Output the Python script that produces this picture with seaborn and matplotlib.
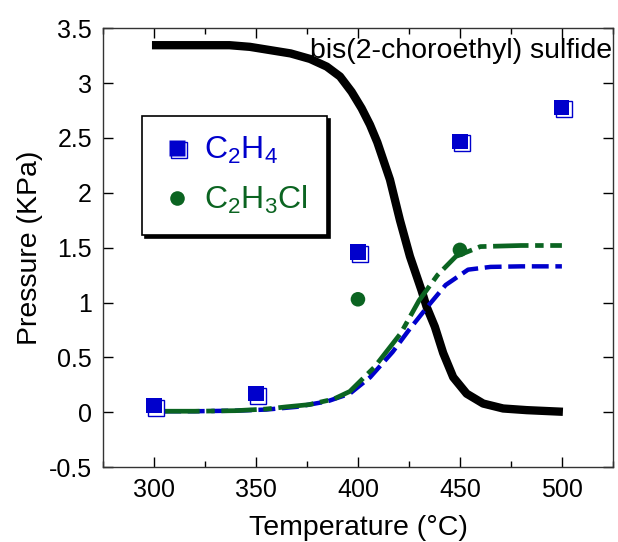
import matplotlib
matplotlib.use("Agg")
import matplotlib.pyplot as plt
import seaborn as sns
from matplotlib.lines import Line2D
from matplotlib.markers import MarkerStyle
from matplotlib.transforms import Affine2D
from matplotlib.ticker import MultipleLocator

# measured points
temp_c2h4 = [300, 350, 400, 450, 500]
p_c2h4 = [0.06, 0.17, 1.46, 2.47, 2.78]
temp_c2h3cl = [400, 450]
p_c2h3cl = [1.03, 1.48]

# model curves
t_mustard = [299, 315, 330, 337, 347, 357, 367, 376.5, 384.7, 391.2, 396.9,
             401.8, 405.9, 409.5, 415.7, 420.6, 425.5, 431.2, 433.7, 437.7,
             441.8, 446.7, 453.3, 461.4, 471.2, 482.7, 500.5]
p_mustard = [3.345, 3.345, 3.345, 3.345, 3.33, 3.30, 3.27, 3.22, 3.15, 3.06,
             2.92, 2.77, 2.62, 2.46, 2.12, 1.75, 1.42, 1.11, 0.96, 0.78, 0.54,
             0.32, 0.17, 0.08, 0.035, 0.02, 0.005]
t_c2h4_fit = [305, 320, 340, 355, 370, 385, 396, 406, 417, 425, 434, 443, 454,
              465, 480, 500]
p_c2h4_fit = [0.01, 0.01, 0.015, 0.025, 0.05, 0.10, 0.17, 0.32, 0.55, 0.75,
              0.96, 1.16, 1.30, 1.325, 1.33, 1.33]
t_c2h3cl_fit = [305, 320, 340, 355, 365, 376, 388, 396, 408, 421, 430, 439,
                448, 460, 480, 500]
p_c2h3cl_fit = [0.01, 0.01, 0.015, 0.03, 0.05, 0.07, 0.12, 0.19, 0.41, 0.72,
                1.02, 1.25, 1.42, 1.51, 1.52, 1.52]

blue = "#0000cc"
green = "#0b6421"

sns.set_style("ticks")
plt.rcParams["font.family"] = ["Liberation Sans", "DejaVu Sans"]
plt.rcParams["mathtext.fontset"] = "custom"
plt.rcParams["mathtext.rm"] = "Liberation Sans"
plt.rcParams["mathtext.default"] = "regular"
plt.rcParams["text.color"] = "black"
plt.rcParams["axes.labelcolor"] = "black"
plt.rcParams["xtick.color"] = "black"
plt.rcParams["ytick.color"] = "black"

fig = plt.figure(figsize=(6.18, 5.42), dpi=100)
ax = fig.add_axes([0.1667, 0.138, 0.825, 0.81])

sns.lineplot(x=t_mustard, y=p_mustard, ax=ax, color="black", lw=6,
             errorbar=None, solid_capstyle="butt", solid_joinstyle="round")
sns.lineplot(x=t_c2h4_fit, y=p_c2h4_fit, ax=ax, color=blue, lw=3.2,
             errorbar=None, linestyle=(0, (3.8, 1.5)), dash_capstyle="butt")
sns.lineplot(x=t_c2h3cl_fit, y=p_c2h3cl_fit, ax=ax, color=green, lw=3.4,
             errorbar=None, linestyle=(0, (7.5, 1.4, 1.8, 1.4)),
             dash_capstyle="butt")

# squares with an offset outline, like the original
shadow = MarkerStyle("s", fillstyle="none",
                     transform=Affine2D().translate(0.13, -0.13))
ax.plot(temp_c2h4, p_c2h4, ls="none", marker=shadow, ms=11,
        mec=blue, mew=1, zorder=4)
sns.scatterplot(x=temp_c2h4, y=p_c2h4, ax=ax, marker="s", s=120,
                color=blue, edgecolor="none", zorder=5)
sns.scatterplot(x=temp_c2h3cl, y=p_c2h3cl, ax=ax, marker="o", s=110,
                color=green, edgecolor="none", zorder=5)

ax.set_xlim(275, 525)
ax.set_ylim(-0.5, 3.5)
ax.xaxis.set_major_locator(MultipleLocator(50))
ax.xaxis.set_minor_locator(MultipleLocator(25))
ax.tick_params(which="both", direction="in", top=True, right=True,
               labelsize=18, width=1)
ax.tick_params(which="major", length=7, pad=8)
ax.tick_params(which="minor", length=4)
ax.set_yticks([-0.5, 0, 0.5, 1, 1.5, 2, 2.5, 3, 3.5])
ax.set_yticklabels(["-0.5", "0", "0.5", "1", "1.5", "2", "2.5", "3", "3.5"])
for s in ax.spines.values():
    s.set_linewidth(1)
    s.set_color("#333333")

ax.set_xlabel("Temperature (°C)", fontsize=20.5, labelpad=9)
ax.set_ylabel("Pressure (KPa)", fontsize=20.5, labelpad=4)

ax.text(0.998, 0.932, "bis(2-choroethyl) sulfide", transform=ax.transAxes,
        ha="right", va="baseline", fontsize=20.5)

sq_fill = Line2D([], [], ls="none", marker="s", ms=11, mfc=blue, mec="none")
sq_edge = Line2D([], [], ls="none", marker=shadow, ms=11, mec=blue, mew=1)
circ = Line2D([], [], ls="none", marker="o", ms=10.5, mfc=green, mec="none")
leg = ax.legend(handles=[(sq_edge, sq_fill), circ],
                labels=["C$_2$H$_4$", "C$_2$H$_3$Cl"],
                loc="upper left", bbox_to_anchor=(0.076, 0.80),
                fontsize=23, frameon=True, fancybox=False,
                shadow={"ox": 2, "oy": -2, "color": "black", "alpha": 1},
                edgecolor="black", labelcolor=[blue, green],
                handlelength=1.0, handletextpad=0.35, borderpad=0.6,
                labelspacing=0.55, borderaxespad=0)
leg.get_frame().set_linewidth(1.2)
leg.get_frame().set_alpha(1)

fig.savefig("out.png", dpi=100)
